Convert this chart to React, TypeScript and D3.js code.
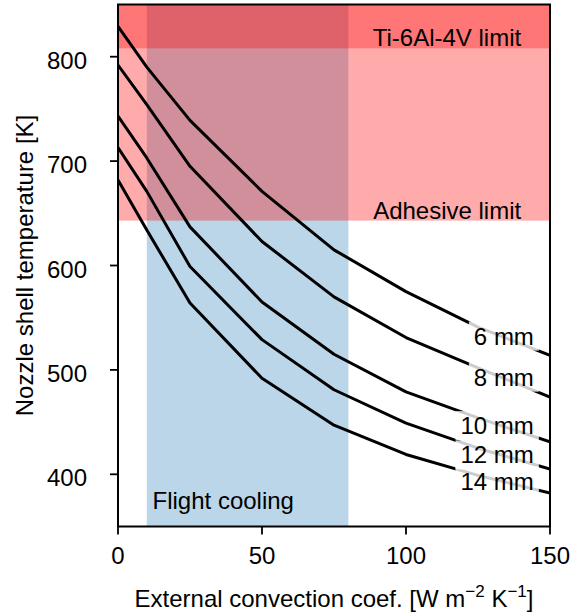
import React, { useRef, useEffect } from 'react';
import * as d3 from 'd3';

// convection coefficient [W m^-2 K^-1]
const H_VALUES = [0, 10, 25, 50, 75, 100, 125, 150];

const SHELL_6MM = [829, 790, 739, 671, 615, 575, 541, 514];
const SHELL_8MM = [792, 754, 695, 623, 570, 531, 502, 474];
const SHELL_10MM = [743, 703, 637, 565, 515, 479, 454, 431];
const SHELL_12MM = [713, 671, 599, 529, 481, 449, 425, 405];
const SHELL_14MM = [682, 634, 564, 492, 447, 419, 399, 382];

const SERIES = [
  { label: '6 mm', values: SHELL_6MM },
  { label: '8 mm', values: SHELL_8MM },
  { label: '10 mm', values: SHELL_10MM },
  { label: '12 mm', values: SHELL_12MM },
  { label: '14 mm', values: SHELL_14MM },
];

const X_TICKS = [0, 50, 100, 150];
const Y_TICKS = [400, 500, 600, 700, 800];

const TI_LIMIT = 808;       // K
const ADHESIVE_LIMIT = 643; // K
const FLIGHT_COOLING = [10, 80];

const FONT = '"Liberation Sans", Arial, Helvetica, sans-serif';
const FS = '24px';

export default function App() {
  const ref = useRef<SVGSVGElement | null>(null);

  useEffect(() => {
    document.body.style.margin = '0';
    const svg = d3.select(ref.current);
    svg.selectAll('*').remove();

    const left = 118, right = 550, top = 4.5, bottom = 526.5;

    const x = d3.scaleLinear().domain([0, 150]).range([left, right]);
    const y = d3.scaleLinear().domain([350, 850]).range([bottom, top]);

    svg.append('defs').append('clipPath').attr('id', 'plot-clip')
      .append('rect')
      .attr('x', left).attr('y', top)
      .attr('width', right - left).attr('height', bottom - top);

    const g = svg.append('g').attr('clip-path', 'url(#plot-clip)');

    // ── Shaded regions ─────────────────────────────────────────────────────
    g.append('rect')
      .attr('x', x(FLIGHT_COOLING[0])).attr('y', top)
      .attr('width', x(FLIGHT_COOLING[1]) - x(FLIGHT_COOLING[0]))
      .attr('height', bottom - top)
      .attr('fill', '#1f77b4').attr('fill-opacity', 0.3);

    g.append('rect')
      .attr('x', left).attr('y', top)
      .attr('width', right - left).attr('height', y(ADHESIVE_LIMIT) - top)
      .attr('fill', '#ff0000').attr('fill-opacity', 0.33);

    g.append('rect')
      .attr('x', left).attr('y', top)
      .attr('width', right - left).attr('height', y(TI_LIMIT) - top)
      .attr('fill', '#ff0000').attr('fill-opacity', 0.31);

    // region labels
    g.append('text')
      .attr('x', x(140)).attr('y', y(TI_LIMIT) - 2.5)
      .attr('text-anchor', 'end')
      .attr('font-size', FS).attr('font-family', FONT)
      .text('Ti-6Al-4V limit');

    g.append('text')
      .attr('x', x(140)).attr('y', y(ADHESIVE_LIMIT) - 2)
      .attr('text-anchor', 'end')
      .attr('font-size', FS).attr('font-family', FONT)
      .text('Adhesive limit');

    g.append('text')
      .attr('x', x(12)).attr('y', y(367))
      .attr('font-size', FS).attr('font-family', FONT)
      .text('Flight cooling');

    // ── Curves ─────────────────────────────────────────────────────────────
    const line = d3.line<number>()
      .x((_, i) => x(H_VALUES[i]))
      .y(d => y(d));

    SERIES.forEach(s => {
      g.append('path')
        .datum(s.values)
        .attr('d', line)
        .attr('fill', 'none')
        .attr('stroke', '#000')
        .attr('stroke-width', 3)
        .attr('stroke-linejoin', 'round');
    });

    // inline labels with translucent white box
    const interp = d3.scaleLinear().domain(H_VALUES);
    SERIES.forEach(s => {
      interp.range(s.values);
      const cy = y(interp(133));
      const lg = g.append('g');
      const box = lg.append('rect');
      const t = lg.append('text')
        .attr('x', x(144.4)).attr('y', cy + 8.5)
        .attr('text-anchor', 'end')
        .attr('font-size', FS).attr('font-family', FONT)
        .text(s.label);
      const bb = (t.node() as SVGTextElement).getBBox();
      box
        .attr('x', bb.x - 5).attr('y', cy - 14.5)
        .attr('width', bb.width + 10).attr('height', 29)
        .attr('fill', '#fff').attr('fill-opacity', 0.8);
    });

    // ── Axes ───────────────────────────────────────────────────────────────
    svg.append('rect')
      .attr('x', left).attr('y', top)
      .attr('width', right - left).attr('height', bottom - top)
      .attr('fill', 'none').attr('stroke', '#000').attr('stroke-width', 2);

    X_TICKS.forEach(v => {
      svg.append('line')
        .attr('x1', x(v)).attr('x2', x(v))
        .attr('y1', bottom).attr('y2', bottom + 8)
        .attr('stroke', '#000').attr('stroke-width', 1.8);
      svg.append('text')
        .attr('x', x(v)).attr('y', bottom + 37)
        .attr('text-anchor', 'middle')
        .attr('font-size', FS).attr('font-family', FONT)
        .text(v);
    });

    Y_TICKS.forEach(v => {
      svg.append('line')
        .attr('x1', left - 8).attr('x2', left)
        .attr('y1', y(v)).attr('y2', y(v))
        .attr('stroke', '#000').attr('stroke-width', 1.8);
      svg.append('text')
        .attr('x', 87).attr('y', y(v) + 12)
        .attr('text-anchor', 'end')
        .attr('font-size', FS).attr('font-family', FONT)
        .text(v);
    });

    svg.append('text')
      .attr('transform', `translate(33,${(top + bottom) / 2}) rotate(-90)`)
      .attr('text-anchor', 'middle')
      .attr('font-size', FS).attr('font-family', FONT)
      .text('Nozzle shell temperature [K]');

    const xl = svg.append('text')
      .attr('x', (left + right) / 2).attr('y', 607)
      .attr('text-anchor', 'middle')
      .attr('font-size', FS).attr('font-family', FONT);
    xl.append('tspan').text('External convection coef.  [W m');
    xl.append('tspan').attr('dy', -10).attr('font-size', '17px').text('\u22122');
    xl.append('tspan').attr('dy', 10).text(' K');
    xl.append('tspan').attr('dy', -10).attr('font-size', '17px').text('\u22121');
    xl.append('tspan').attr('dy', 10).text(']');
  }, []);

  return <svg ref={ref} width={571} height={613} style={{ display: 'block' }} />;
}
